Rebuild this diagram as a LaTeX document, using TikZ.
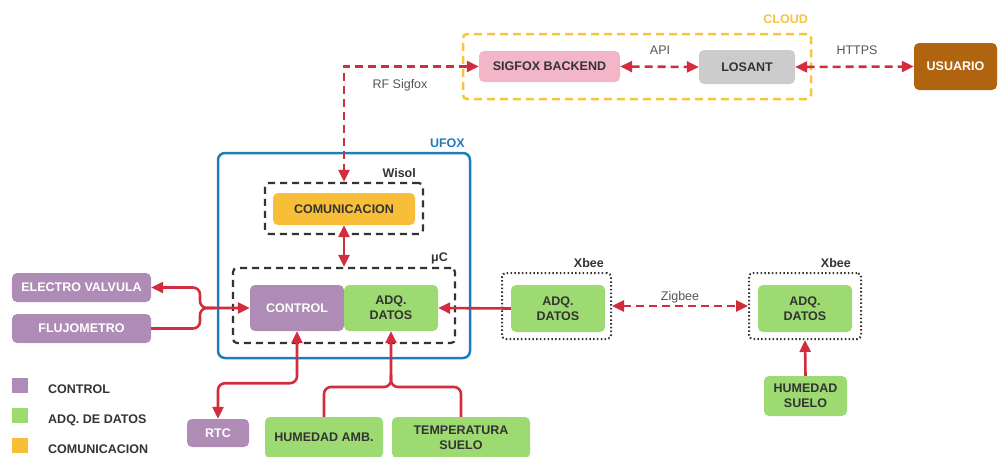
\documentclass[tikz,border=0pt]{standalone}
\usepackage{fontspec}
\setmainfont{Liberation Sans}
\usetikzlibrary{arrows.meta}

\definecolor{linkred}{RGB}{209,45,61}
\definecolor{cloudyel}{RGB}{246,196,62}
\definecolor{comfill}{RGB}{249,190,56}
\definecolor{sigpink}{RGB}{243,181,200}
\definecolor{losgray}{RGB}{204,204,204}
\definecolor{userbrown}{RGB}{177,100,15}
\definecolor{ufoxblue}{RGB}{33,125,185}
\definecolor{ctrlpurple}{RGB}{175,140,182}
\definecolor{adqgreen}{RGB}{157,218,114}
\definecolor{ink}{RGB}{51,51,51}
\definecolor{softink}{RGB}{85,85,85}

\begin{document}
\begin{tikzpicture}[x=1pt,y=-1pt,
  boxtext/.style={font=\fontsize{12.5}{15}\selectfont\bfseries},
  block/.style={boxtext, rounded corners=5pt, inner sep=2pt, align=center, text=ink},
  ctrlbox/.style={block, fill=ctrlpurple, text=white},
  adqbox/.style={block, fill=adqgreen},
  combox/.style={block, fill=comfill},
  tag/.style={boxtext, inner sep=0pt, anchor=base east},
  linklabel/.style={font=\fontsize{12.5}{15}\selectfont, text=softink, inner sep=0pt, anchor=base},
  legendsq/.style={fill=#1, minimum width=16pt, minimum height=15pt, inner sep=0pt},
  legendtxt/.style={boxtext, text=ink, inner sep=0pt, anchor=base west},
  wire/.style={draw=linkred, line width=2.6pt, rounded corners=7pt},
  radio/.style={draw=linkred, line width=2.6pt, dash pattern=on 8pt off 5pt},
  one/.style={-{Triangle[length=12pt,width=11pt]}},
  both/.style={{Triangle[length=12pt,width=11pt]}-{Triangle[length=12pt,width=11pt]}},
]
\useasboundingbox (0,0) rectangle (999,456);
\clip (0,0) rectangle (999,456);

% ---------- cloud ----------
\node[draw=cloudyel, line width=2.5pt, dash pattern=on 8pt off 5pt, rounded corners=4pt,
      minimum width=348pt, minimum height=65pt] (cloud) at (637,66.5) {};
\node[tag, text=cloudyel] (cloudlbl) at (808,23.5) {CLOUD};
\node[block, fill=sigpink, minimum width=141pt, minimum height=31pt] (sigfox) at (549.5,66.5) {SIGFOX BACKEND};
\node[block, fill=losgray, minimum width=96pt, minimum height=34pt] (losant) at (747,67) {LOSANT};
\node[block, fill=userbrown, text=white, minimum width=83pt, minimum height=47pt] (usuario) at (955.5,66.5) {USUARIO};
\node[linklabel] (apilbl) at (660,54.5) {API};
\node[linklabel] (httpslbl) at (857,54.5) {HTTPS};

% ---------- UFOX board ----------
\node[draw=ufoxblue, line width=2.5pt, rounded corners=7pt,
      minimum width=252pt, minimum height=205pt] (ufox) at (344,255.5) {};
\node[tag, text=ufoxblue] (ufoxlbl) at (465,147.5) {UFOX};

\node[draw=ink, line width=2.2pt, dash pattern=on 7pt off 5pt, rounded corners=4pt,
      minimum width=158pt, minimum height=51pt] (wisol) at (344,208.5) {};
\node[tag, text=ink] (wisollbl) at (416,177.5) {Wisol};
\node[combox, minimum width=142pt, minimum height=32pt] (comun) at (344,209) {COMUNICACION};

\node[draw=ink, line width=2.2pt, dash pattern=on 7pt off 5pt, rounded corners=4pt,
      minimum width=222pt, minimum height=75pt] (uc) at (344,305.5) {};
\node[tag, text=ink] (uclbl) at (448,261.5) {μC};
\node[ctrlbox, minimum width=94pt, minimum height=46pt] (control) at (297,308) {CONTROL};
\node[adqbox, minimum width=94pt, minimum height=46pt] (adq) at (391,308) {ADQ.\\DATOS};

% ---------- actuators and sensors ----------
\node[ctrlbox, minimum width=139pt, minimum height=29pt] (electro) at (81.5,287.5) {ELECTRO VALVULA};
\node[ctrlbox, minimum width=139pt, minimum height=29pt] (fluj) at (81.5,328.5) {FLUJOMETRO};
\node[ctrlbox, minimum width=62pt, minimum height=28pt] (rtc) at (218,433) {RTC};
\node[adqbox, minimum width=118pt, minimum height=41pt] (hamb) at (324,437.5) {HUMEDAD AMB.};
\node[adqbox, minimum width=138pt, minimum height=41pt] (temp) at (461,437.5) {TEMPERATURA\\SUELO};

% ---------- Xbee nodes ----------
\node[draw=ink, line width=2pt, dash pattern=on 1.5pt off 2.3pt, rounded corners=4pt,
      minimum width=109pt, minimum height=66pt] (xbee1) at (556.5,306) {};
\node[tag, text=ink] (xbee1lbl) at (604,267.5) {Xbee};
\node[adqbox, minimum width=94pt, minimum height=47pt] (adq1) at (558,308.5) {ADQ.\\DATOS};

\node[draw=ink, line width=2pt, dash pattern=on 1.5pt off 2.3pt, rounded corners=4pt,
      minimum width=112pt, minimum height=66pt] (xbee2) at (805,306) {};
\node[tag, text=ink] (xbee2lbl) at (851,267.5) {Xbee};
\node[adqbox, minimum width=94pt, minimum height=47pt] (adq2) at (805,308.5) {ADQ.\\DATOS};
\node[adqbox, minimum width=83pt, minimum height=40pt] (hsuelo) at (805.5,396) {HUMEDAD\\SUELO};
\node[linklabel] (zigbeelbl) at (680,300.5) {Zigbee};

% ---------- legend ----------
\node[legendsq=ctrlpurple] (legctrl) at (20,385.5) {};
\node[legendsq=adqgreen] (legadq) at (20,415.5) {};
\node[legendsq=comfill] (legcom) at (20,445.5) {};
\node[legendtxt] (legctrltxt) at (48,393.5) {CONTROL};
\node[legendtxt] (legadqtxt) at (48,423.5) {ADQ. DE DATOS};
\node[legendtxt] (legcomtxt) at (48,453.5) {COMUNICACION};

% ---------- radio links ----------
\draw[radio, both] (sigfox.west) -| (wisol.north);
\node[linklabel] (rflbl) at (400,88.5) {RF Sigfox};
\draw[radio, both] (sigfox.east) -- (losant.west);
\draw[radio, both] (losant.east) -- (usuario.west);
\draw[radio, both] (xbee1.east) -- (xbee2.west);

% ---------- wired links ----------
\draw[wire, both] (comun.south) -- (uc.north);
\draw[wire, one] (adq1.west) -- (adq.east);
\draw[wire, one] (hsuelo.north) -- (xbee2.south);

\coordinate (ctrljoin) at (200,308);
\draw[wire, both] (electro.east) -| (ctrljoin) -- (control.west);
\draw[wire] (fluj.east) -| (ctrljoin) -- (215,308);

\draw[wire, both] (control.south) -- ++(0,52) -| (rtc.north);

\coordinate (adqjoin) at (391,387);
\draw[wire, one] (hamb.north) |- (adqjoin) -- (adq.south);
\draw[wire] (temp.north) |- (adqjoin) -- (391,375);
\end{tikzpicture}
\end{document}
